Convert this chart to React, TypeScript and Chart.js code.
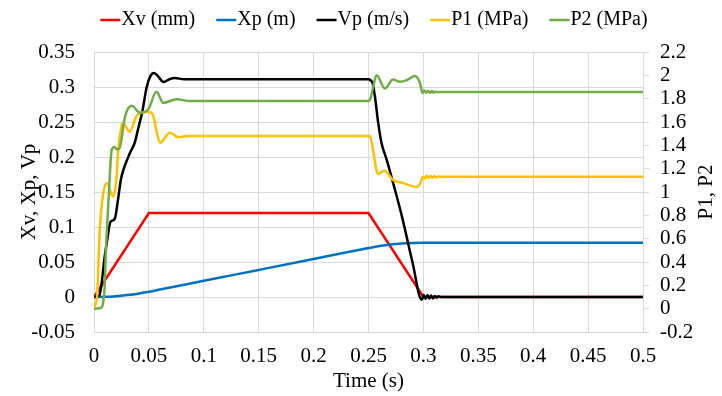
import React, { useEffect, useRef } from 'react';
import { Chart, registerables } from 'chart.js';

Chart.register(...registerables);

// ---------- data ----------
const seriesNames = ['Xv (mm)', 'Xp (m)', 'Vp (m/s)', 'P1 (MPa)', 'P2 (MPa)'];
const seriesColors = ['#FF0000', '#0070C0', '#000000', '#FFC000', '#70AD47'];

const xvTime = [0, 0.05, 0.25, 0.3, 0.5];
const xvValues = [0, 0.12, 0.12, 0, 0];

const xpTime = [0, 0.01, 0.02, 0.03, 0.04, 0.05, 0.06, 0.1, 0.15, 0.2, 0.25, 0.26, 0.27, 0.28, 0.29, 0.3, 0.5];
const xpValues = [0, 0.0002, 0.0012, 0.0028, 0.0048, 0.0075, 0.0106, 0.0231, 0.0387, 0.0543, 0.0699, 0.0728, 0.075, 0.0765, 0.0773, 0.0775, 0.0775];

const vpTime = [0, 0.005, 0.0073, 0.0095, 0.012, 0.0146, 0.0165, 0.019, 0.0215, 0.0245, 0.0275, 0.0328, 0.037, 0.04, 0.044, 0.048, 0.0515, 0.0548, 0.0585, 0.0635, 0.0685, 0.0735, 0.082,
  0.25, 0.2515, 0.2538, 0.2559, 0.2589, 0.262, 0.2666, 0.2726, 0.28, 0.29, 0.2985, 0.3003, 0.302, 0.3037, 0.3054, 0.307, 0.3087, 0.3104, 0.312, 0.3137, 0.316, 0.5];
const vpValues = [0, 0.003, 0.024, 0.055, 0.081, 0.106, 0.109, 0.112, 0.135, 0.168, 0.185, 0.206, 0.22, 0.239, 0.265, 0.3, 0.316, 0.32, 0.315, 0.307, 0.311, 0.313, 0.311,
  0.311, 0.31, 0.305, 0.286, 0.248, 0.219, 0.196, 0.162, 0.118, 0.05, -0.004, 0.003, -0.003, 0.003, -0.002, 0.002, -0.002, 0.0015, -0.001, 0.001, 0, 0];

const p1Time = [0, 0.0006, 0.003, 0.0052, 0.0082, 0.0118, 0.0173, 0.0203, 0.0219, 0.0249, 0.0264, 0.0325, 0.0385, 0.0431, 0.0492, 0.0537, 0.0567, 0.0601, 0.0692, 0.0768, 0.0844,
  0.25, 0.2514, 0.2541, 0.2568, 0.2587, 0.2645, 0.2723, 0.2814, 0.2942, 0.2969, 0.2996, 0.3013, 0.303, 0.3047, 0.3064, 0.3081, 0.3098, 0.3115, 0.3135, 0.316, 0.5];
const p1Values = [0, 0.017, 0.134, 0.674, 0.974, 1.074, 0.96, 1.103, 1.334, 1.56, 1.589, 1.517, 1.646, 1.68, 1.688, 1.66, 1.531, 1.423, 1.508, 1.469, 1.48,
  1.48, 1.48, 1.36, 1.206, 1.154, 1.185, 1.103, 1.077, 1.043, 1.07, 1.128, 1.115, 1.14, 1.12, 1.138, 1.122, 1.135, 1.125, 1.132, 1.13, 1.13];

const p2Time = [0, 0.006, 0.0095, 0.011, 0.0134, 0.0161, 0.0188, 0.021, 0.0234, 0.0282, 0.0343, 0.0419, 0.0495, 0.0568, 0.0631, 0.0753, 0.0874,
  0.25, 0.2514, 0.254, 0.2573, 0.265, 0.2723, 0.2787, 0.285, 0.2923, 0.2969, 0.2992, 0.3009, 0.3026, 0.3043, 0.306, 0.3077, 0.3094, 0.3111, 0.3128, 0.315, 0.5];
const p2Values = [0, 0.005, 0.16, 0.53, 0.96, 1.36, 1.385, 1.365, 1.378, 1.645, 1.74, 1.68, 1.71, 1.86, 1.765, 1.795, 1.78,
  1.78, 1.79, 1.89, 2.0, 1.887, 1.965, 1.945, 1.96, 1.994, 1.934, 1.848, 1.87, 1.85, 1.868, 1.85, 1.865, 1.852, 1.86, 1.855, 1.857, 1.857];

const xTitle = 'Time (s)';
const yLeftTitle = 'Xv, Xp, Vp';
const yRightTitle = 'P1, P2';

// ---------- styling ----------
const FONT = "'Liberation Serif', 'Times New Roman', serif";
const TICK_SIZE = 21;
const LEGEND_SIZE = 20;
const GRID = '#d9d9d9';

const fmt = (v: any) => String(Number(Number(v).toFixed(2)));
const toPoints = (ts: number[], vs: number[]) => ts.map((t, i) => ({ x: t, y: vs[i] }));

const legendPlugin = {
  id: 'customLegend',
  afterDraw(chart: any) {
    const ctx = chart.ctx;
    ctx.save();
    ctx.font = `${LEGEND_SIZE}px ${FONT}`;
    ctx.textBaseline = 'middle';
    ctx.textAlign = 'left';
    const lineW = 20, gap = 1, itemGap = 21;
    const widths = seriesNames.map((n) => ctx.measureText(n).width);
    const total = widths.reduce((a, w) => a + lineW + gap + w, 0) + itemGap * (seriesNames.length - 1);
    let x = 374 - total / 2;
    const y = 20;
    seriesNames.forEach((name, i) => {
      ctx.strokeStyle = seriesColors[i];
      ctx.lineWidth = 2.5;
      ctx.beginPath();
      ctx.moveTo(x, y);
      ctx.lineTo(x + lineW, y);
      ctx.stroke();
      ctx.fillStyle = '#000';
      ctx.fillText(name, x + lineW + gap, y);
      x += lineW + gap + widths[i] + itemGap;
    });
    // right axis title, reading bottom-to-top like the left one
    const area = chart.chartArea;
    ctx.font = `${TICK_SIZE}px ${FONT}`;
    ctx.textAlign = 'center';
    ctx.translate(chart.width - 16, (area.top + area.bottom) / 2);
    ctx.rotate(-Math.PI / 2);
    ctx.fillText(yRightTitle, 0, 0);
    ctx.restore();
  },
};

export default function App() {
  const ref = useRef<HTMLCanvasElement | null>(null);

  useEffect(() => {
    if (!ref.current) return;
    const tickFont = { family: FONT, size: TICK_SIZE };
    const series = [
      { t: xvTime, v: xvValues, axis: 'y', smooth: false },
      { t: xpTime, v: xpValues, axis: 'y', smooth: true },
      { t: vpTime, v: vpValues, axis: 'y', smooth: true },
      { t: p1Time, v: p1Values, axis: 'y1', smooth: true },
      { t: p2Time, v: p2Values, axis: 'y1', smooth: true },
    ];
    const chart = new Chart(ref.current, {
      type: 'line',
      data: {
        datasets: series.map((s, i) => ({
          label: seriesNames[i],
          data: toPoints(s.t, s.v),
          yAxisID: s.axis,
          borderColor: seriesColors[i],
          backgroundColor: seriesColors[i],
          borderWidth: 2.5,
          pointRadius: 0,
          fill: false,
          tension: 0,
          cubicInterpolationMode: s.smooth ? 'monotone' : 'default',
          order: 5 - i,
        })),
      },
      options: {
        responsive: false,
        animation: false,
        devicePixelRatio: 1,
        events: [],
        layout: { padding: { top: 52, left: 0, right: 0, bottom: 0 } },
        plugins: { legend: { display: false }, tooltip: { enabled: false } },
        scales: {
          x: {
            type: 'linear',
            min: 0,
            max: 0.5,
            ticks: { stepSize: 0.05, autoSkip: false, maxRotation: 0, padding: 12, font: tickFont, color: '#000', callback: fmt },
            grid: { color: GRID, drawTicks: false },
            border: { color: GRID },
            title: { display: true, text: xTitle, font: tickFont, color: '#000', padding: { top: 0, bottom: 2 } },
            afterFit: (s: any) => { s.height = 64; },
          },
          y: {
            type: 'linear',
            position: 'left',
            min: -0.05,
            max: 0.35,
            ticks: { stepSize: 0.05, autoSkip: false, padding: 19, font: tickFont, color: '#000', callback: fmt },
            grid: { color: GRID, drawTicks: false },
            border: { color: GRID },
            title: { display: true, text: yLeftTitle, font: tickFont, color: '#000', padding: { top: 17, bottom: 0 } },
            afterFit: (s: any) => { s.width = 94; },
          },
          y1: {
            type: 'linear',
            position: 'right',
            min: -0.2,
            max: 2.2,
            ticks: { stepSize: 0.2, autoSkip: false, padding: 11, font: tickFont, color: '#000', callback: fmt },
            grid: { color: GRID, drawOnChartArea: false, drawTicks: true, tickLength: 6 },
            border: { color: GRID },
            title: { display: false },
            afterFit: (s: any) => { s.width = 79; },
          },
        },
      },
      plugins: [legendPlugin],
    } as any);
    return () => chart.destroy();
  }, []);

  return (
    <div style={{ position: 'fixed', left: 0, top: 0, width: 722, height: 396, background: '#fff' }}>
      <canvas ref={ref} width={722} height={396} style={{ width: 722, height: 396, display: 'block' }} />
    </div>
  );
}
